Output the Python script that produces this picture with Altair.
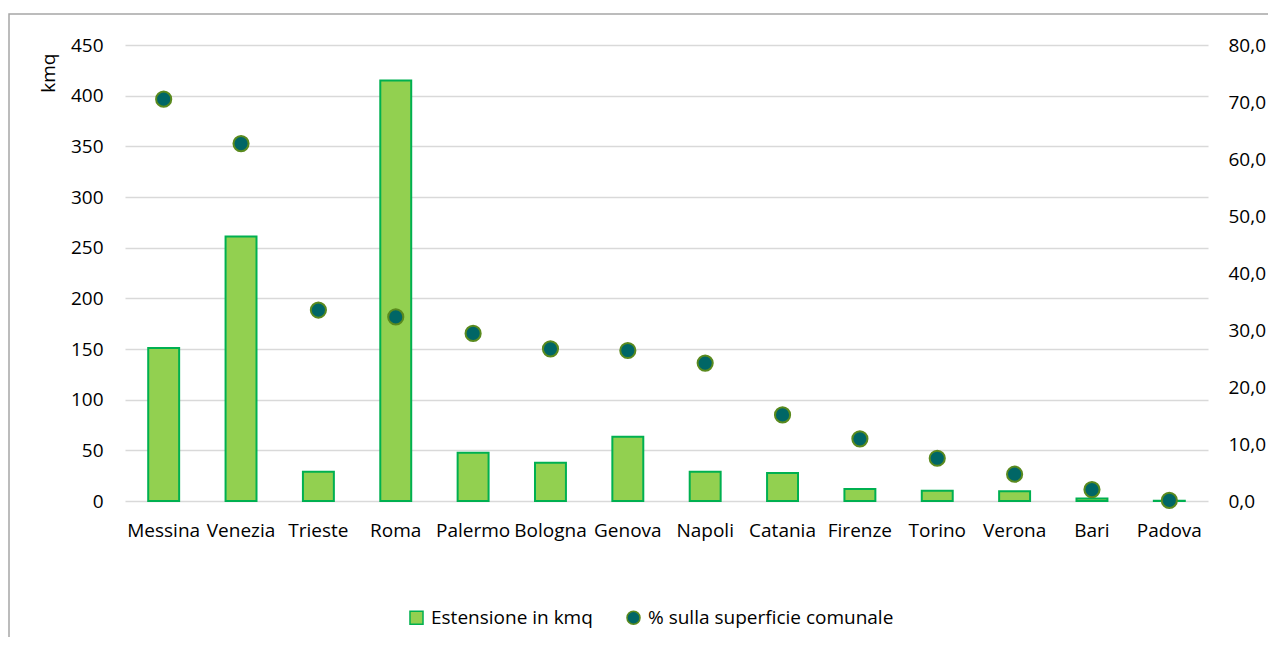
import altair as alt
import pandas as pd

cities = ["Messina", "Venezia", "Trieste", "Roma", "Palermo", "Bologna", "Genova",
          "Napoli", "Catania", "Firenze", "Torino", "Verona", "Bari", "Padova"]
kmq = [151, 261, 28.8, 415, 47.5, 37.8, 63.3, 28.8, 27.6, 11.8, 10, 9.5, 2.5, 0.3]
pct = [70.5, 62.7, 33.5, 32.3, 29.4, 26.7, 26.4, 24.2, 15.1, 10.9, 7.5, 4.7, 2.0, 0.1]
series = ["Estensione in kmq", "% sulla superficie comunale"]
left_ticks = list(range(0, 451, 50))
right_ticks = list(range(0, 81, 10))

FONT = "Open Sans"
FS = 19

df = pd.DataFrame({"citta": cities, "kmq": kmq, "pct": pct})

fill_scale = alt.Scale(domain=series, range=["#92D050", "#006666"])
stroke_scale = alt.Scale(domain=series, range=["#00B050", "#5A8A1E"])
shape_scale = alt.Scale(domain=series, range=["square", "circle"])

legend = alt.Legend(title=None, orient="none", legendX=282, legendY=563,
                    direction="horizontal", labelLimit=0)

xenc = alt.X("citta:N", sort=cities, title=None,
             scale=alt.Scale(paddingInner=0.6, paddingOuter=0.3),
             axis=alt.Axis(labelAngle=0, domain=False, ticks=False, tickSize=0,
                           labelPadding=35, labelBaseline="alphabetic",
                           labelOverlap=False, grid=False))

border = alt.Chart(pd.DataFrame({"a": [0]})).mark_rect(
    fillOpacity=0, stroke="#A6A6A6", strokeWidth=1.5
).encode(x=alt.value(-116), x2=alt.value(2000), y=alt.value(-31), y2=alt.value(1000))

bars = alt.Chart(df).transform_calculate(serie="'" + series[0] + "'").mark_bar(
    strokeWidth=2
).encode(
    x=xenc,
    y=alt.Y("kmq:Q", scale=alt.Scale(domain=[0, 450], nice=False),
            axis=alt.Axis(values=left_ticks, title="kmq", domain=False, ticks=False,
                          tickSize=0, labelPadding=22, grid=True,
                          titleAngle=270, titleAlign="right", titleBaseline="middle",
                          titleX=-77, titleY=8)),
    fill=alt.Fill("serie:N", scale=fill_scale, legend=legend),
    stroke=alt.Stroke("serie:N", scale=stroke_scale, legend=legend),
)

points = alt.Chart(df).transform_calculate(serie="'" + series[1] + "'").mark_point(
    filled=True, size=230, strokeWidth=2, opacity=1
).encode(
    x=xenc,
    y=alt.Y("pct:Q", scale=alt.Scale(domain=[0, 80], nice=False),
            axis=alt.Axis(orient="right", values=right_ticks, title=None, domain=False,
                          ticks=False, tickSize=0, labelPadding=20, grid=False,
                          labelExpr="replace(format(datum.value, '.1f'), '.', ',')")),
    fill=alt.Fill("serie:N", scale=fill_scale, legend=legend),
    stroke=alt.Stroke("serie:N", scale=stroke_scale, legend=legend),
    shape=alt.Shape("serie:N", scale=shape_scale, legend=legend),
)

chart = alt.layer(border, bars, points).resolve_scale(y="independent").properties(
    width=1083, height=456,
    padding={"left": 117, "top": 37, "right": 60, "bottom": 136},
    autosize=alt.AutoSizeParams(type="none"),
).configure_view(stroke=None).configure_axis(
    labelFont=FONT, titleFont=FONT, labelFontSize=FS, titleFontSize=FS,
    labelColor="#000000", titleColor="#000000", titleFontWeight="normal",
    gridColor="#D9D9D9", gridWidth=1.5,
).configure_legend(
    labelFont=FONT, labelFontSize=FS, labelColor="#000000", labelOffset=5,
    columnPadding=30, symbolSize=170, symbolStrokeWidth=1.5, padding=0,
    labelLimit=0,
)

chart.save("out.html", embed_options={"renderer": "svg", "actions": False})
